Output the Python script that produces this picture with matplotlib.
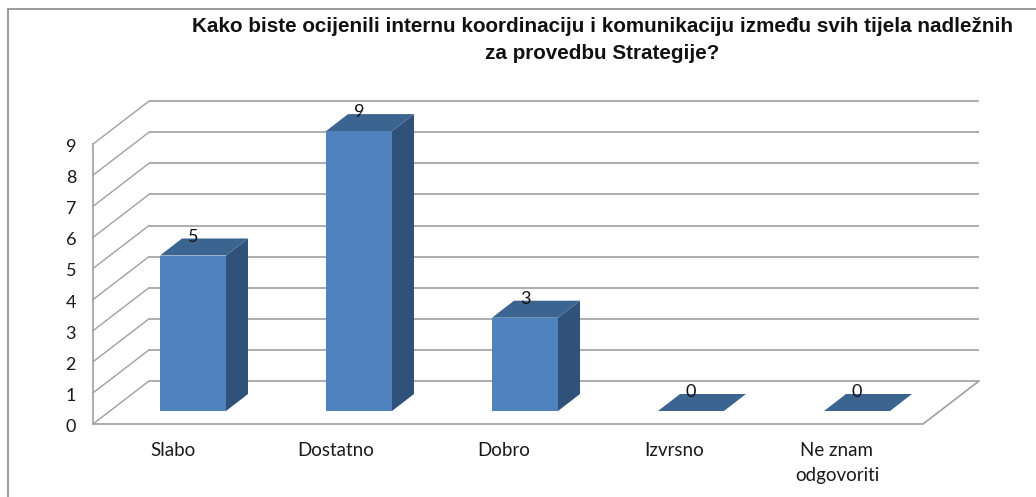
import matplotlib
matplotlib.use('Agg')
import matplotlib.pyplot as plt
from matplotlib.patches import Rectangle

categories = ['Slabo', 'Dostatno', 'Dobro', 'Izvrsno', 'Ne znam\nodgovoriti']
values = [5, 9, 3, 0, 0]
ticks = [0, 1, 2, 3, 4, 5, 6, 7, 8, 9]
title = 'Kako biste ocijenili internu koordinaciju i komunikaciju između svih tijela nadležnih\nza provedbu Strategije?'

W, H = 1036, 497
# one category = 166 px, one value unit = 31.1 px
px_x = 166.0
px_y = 31.1
x0 = 193.0   # pixel of first bar centre
y0 = 411.0   # pixel of value 0 on bar front

fig = plt.figure(figsize=(W / 100, H / 100), dpi=100)
ax = fig.add_axes([0, 0, 1, 1])
ax.set_xlim(-x0 / px_x, (W - x0) / px_x)
ax.set_ylim((y0 - H) / px_y, y0 / px_y)
ax.axis('off')

grid_c = '#a0a0a0'
front_c = '#4f81bd'
side_c = '#30527a'
top_c = '#3c6491'

bar_w = 66 / px_x
# depth offsets, data units
bar_dx = 22 / px_x
bar_dy = 17 / px_y
front_dx = -17 / px_x   # floor front edge relative to bar front plane
front_dy = -13 / px_y
back_dx = 39 / px_x
back_dy = 30 / px_y

left = (93 - x0) / px_x - front_dx
right = left + 830 / px_x

# label shifts in px, the source chart doesn't centre them evenly
label_shift = [-20, -23, -21, -17, -20]

# walls and gridlines
for t in ticks:
    ax.plot([left + back_dx, right + back_dx], [t + back_dy, t + back_dy],
            c=grid_c, lw=1.2, solid_capstyle='butt', zorder=1)
    ax.plot([left + front_dx, left + back_dx], [t + front_dy, t + back_dy],
            c=grid_c, lw=1.0, zorder=1)
    ax.text(left + front_dx - 17 / px_x, t + front_dy - 1.5 / px_y, str(t), ha='right', va='center_baseline',
            fontsize=13, family='Lato', color='#1a1a1a')
ax.plot([left + front_dx, left + front_dx], [ticks[0] + front_dy, ticks[-1] + front_dy],
        c=grid_c, lw=1.2, zorder=1)
ax.plot([left + front_dx, right + front_dx, right + back_dx],
        [front_dy, front_dy, back_dy], c=grid_c, lw=1.2, zorder=1)

# bars
for i, v in enumerate(values):
    l = i - bar_w / 2
    r = i + bar_w / 2
    if v > 0:
        ax.bar(i, v, width=bar_w, color=front_c, zorder=3)
        ax.fill([r, r + bar_dx, r + bar_dx, r], [0, bar_dy, v + bar_dy, v], color=side_c, lw=0, zorder=3)
    ax.fill([l, r, r + bar_dx, l + bar_dx], [v, v, v + bar_dy, v + bar_dy], color=top_c, lw=0, zorder=3)
    ax.text(i, v + 0.65, str(v), ha='center', va='center_baseline', fontsize=13, family='Lato',
            color='#111111', zorder=4)
    ax.text(i + label_shift[i] / px_x, -31 / px_y, categories[i], ha='center', va='top', fontsize=13.5,
            family='Lato', color='#1a1a1a', linespacing=1.6)

ax.text(602 / W, 1 - 17 / H, title, transform=ax.transAxes, ha='center', va='top', fontsize=14.9,
        family='Liberation Sans', weight='bold', color='#111111', linespacing=1.55)

# outer frame, only left and top visible
fig.add_artist(Rectangle((8 / W, -0.1), 1.1, 1.1 - 9 / H, transform=fig.transFigure, fill=False,
                         ec='#8a8a8a', lw=1.2))

fig.savefig('out.png', dpi=100)
